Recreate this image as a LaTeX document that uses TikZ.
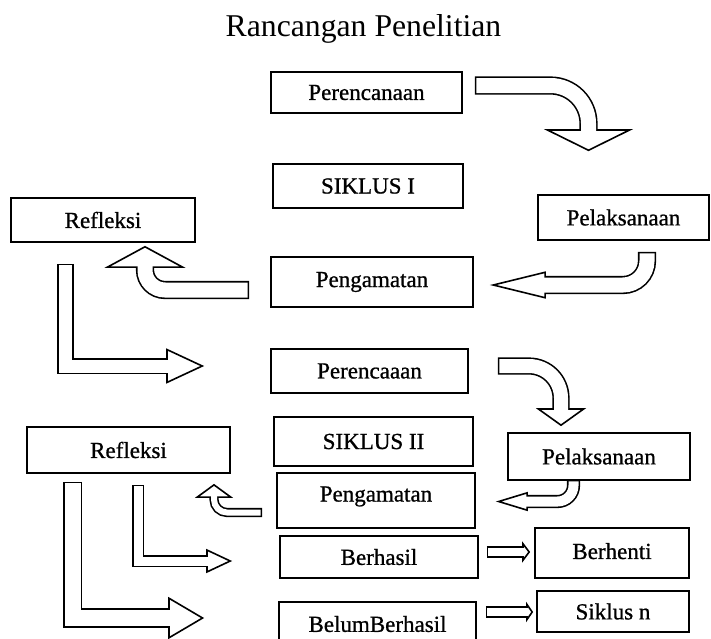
\documentclass[tikz,border=0pt]{standalone}
\usepackage{fontspec}
\setmainfont{Liberation Serif}
\newfontfamily\boxfont{Liberation Serif}[FakeBold=0.9]
\usepackage{tikz}
\usetikzlibrary{arrows.meta, calc}
\tikzstyle{stage} = [rectangle, draw, line width=1.7pt, align=center, inner sep=0pt, font=\boxfont\fontsize{23}{26}\selectfont]
\tikzset{blockarrow/.style n args={3}{draw=black, line width=#1+3.2pt, line join=miter,
    -{Triangle[length=#3, width=#2, line width=1.6pt 0, fill=white]},
    postaction={draw=white, line width=#1, -, shorten <=1.6pt, shorten >=#3-2pt}}}

\begin{document}
\begin{tikzpicture}[x=1pt, y=-1pt]
\clip (0,0) rectangle (711,638);

\node[font=\fontsize{31.7}{36}\selectfont, inner sep=0pt] (title) at (363.5,28.6) {Rancangan Penelitian};

\node[stage, minimum width=191pt, minimum height=41pt] (plan1) at (366.5,92.5) {Perencanaan};
\node[stage, minimum width=190pt, minimum height=44pt] (cycle1) at (368,186) {SIKLUS I};
\node[stage, minimum width=184pt, minimum height=44pt] (reflect1) at (103,220) {Refleksi};
\node[stage, minimum width=171pt, minimum height=45pt] (act1) at (623.5,217.5) {Pelaksanaan};
\node[stage, minimum width=202pt, minimum height=50pt] (observe1) at (372,282) {Pengamatan};

\node[stage, minimum width=197pt, minimum height=44pt] (plan2) at (369.5,371) {Perencaaan};
\node[stage, minimum width=199pt, minimum height=49pt] (cycle2) at (373.5,441.5) {SIKLUS II};
\node[stage, minimum width=203pt, minimum height=46pt] (reflect2) at (128.5,450) {Refleksi};
\node[stage, minimum width=182pt, minimum height=47pt] (act2) at (599,456.5) {Pelaksanaan};
\node[stage, minimum width=198pt, minimum height=55pt, text depth=13pt] (observe2) at (376,500.5) {Pengamatan};

\node[stage, minimum width=198pt, minimum height=42pt] (success) at (379,557) {Berhasil};
\node[stage, minimum width=197pt, minimum height=44pt] (fail) at (377.5,624) {BelumBerhasil};
\node[stage, minimum width=154pt, minimum height=50pt, text depth=4pt] (stop) at (612,553) {Berhenti};
\node[stage, minimum width=152pt, minimum height=41pt] (nextcycle) at (613,611.5) {Siklus n};

% siklus I
\draw[blockarrow={15pt}{89pt}{22pt}, rounded corners=38pt] ($(plan1.east)+(12,-7)$) -| ($(act1.north)+(-35,-43)$);
\draw[blockarrow={15pt}{27pt}{56pt}, rounded corners=24pt] ($(act1.south)+(23.5,11)$) |- ($(observe1.east)+(16,3)$);
\draw[blockarrow={15pt}{81pt}{22pt}, rounded corners=20pt] ($(observe1.west)+(-21,8)$) -| ($(reflect1.south)+(42,3)$);
\draw[blockarrow={13pt}{35pt}{38pt}] ($(reflect1.south)+(-37.5,21)$) |- ($(plan2.west)+(-66,-5)$);

% siklus II
\draw[blockarrow={14pt}{50pt}{18pt}, rounded corners=32pt] ($(plan2.east)+(29,-5)$) -| ($(act2.north)+(-38,-6)$);
\draw[blockarrow={10pt}{19pt}{32pt}, rounded corners=16pt] ($(act2.south)+(-25.5,-1)$) |- ($(observe2.east)+(20,1)$);
\draw[blockarrow={6pt}{38pt}{14pt}, rounded corners=13pt] ($(observe2.west)+(-14,12)$) -| ($(reflect2.south)+(85.5,10)$);
\draw[blockarrow={9pt}{24pt}{26pt}] ($(reflect2.south)+(9.5,11)$) |- ($(success.west)+(-47,4)$);
\draw[blockarrow={16pt}{42pt}{36pt}] ($(reflect2.south)+(-56,8)$) |- ($(fail.west)+(-74,-6)$);

% hasil
\draw[blockarrow={8pt}{21pt}{8pt}] ($(success.east)+(8,-5)$) -- ($(stop.west)+(-4,-1)$);
\draw[blockarrow={8pt}{20pt}{7pt}] ($(fail.east)+(9,-12)$) -- ($(nextcycle.west)+(-3,0.5)$);

\end{tikzpicture}
\end{document}
